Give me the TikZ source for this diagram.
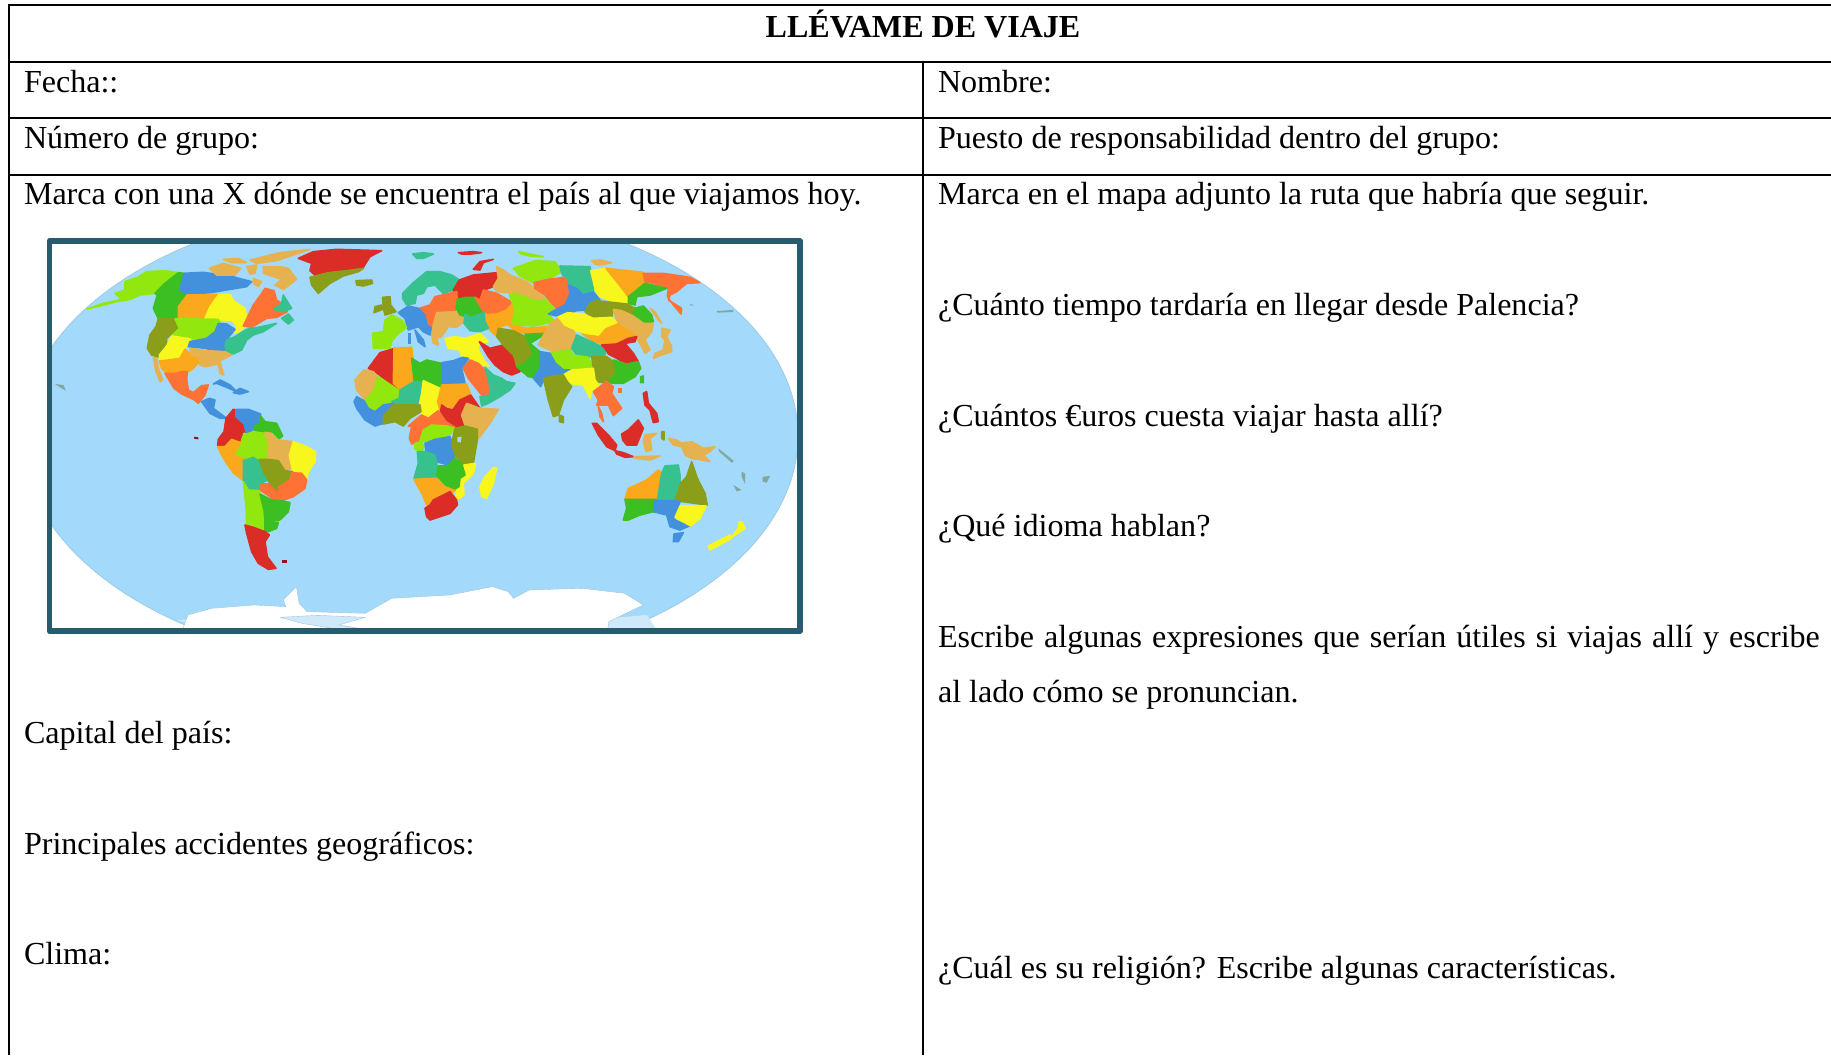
\documentclass[tikz,border=0pt]{standalone}
\usepackage{fontspec}
\setmainfont{Liberation Serif}
\definecolor{cRed}{HTML}{DB2C27}
\definecolor{cOrg}{HTML}{FF7236}
\definecolor{cAmb}{HTML}{FBA81C}
\definecolor{cTan}{HTML}{E6B24F}
\definecolor{cYel}{HTML}{F7F71E}
\definecolor{cLim}{HTML}{92E70E}
\definecolor{cGrn}{HTML}{3CBF23}
\definecolor{cTeal}{HTML}{37C18F}
\definecolor{cBlu}{HTML}{4390DC}
\definecolor{cOlv}{HTML}{8B9E1A}
\definecolor{ocean}{HTML}{A3DAFB}
\definecolor{shelf}{HTML}{CFE9FA}
\definecolor{frameC}{HTML}{265C6E}
\definecolor{isle}{HTML}{7FA8A0}
\newcommand\cty[2]{\draw[land=#1] plot coordinates {#2} -- cycle;}
\newcommand\isl[2]{\fill[#1] plot coordinates {#2} -- cycle;}
\tikzset{
  rule/.style={line width=1.1pt,black},
  cell/.style={anchor=base west,inner sep=0pt,outer sep=0pt,font=\fontsize{18.25}{22}\selectfont},
  land/.style={draw=#1,fill=#1,line width=0.9pt,line join=round},
  crop/.style 2 args={shift={(#1,#2)},x=0.0066667cm,y=-0.0066667cm},
  cropw/.style={shift={(0,220)},x=0.010588cm,y=-0.0066667cm}
}
\begin{document}
\begin{tikzpicture}[x=0.02cm,y=-0.02cm]
\useasboundingbox (0,0) rectangle (1831,1055);
\fill[white] (0,0) rectangle (1831,1055);
% table
\draw[rule] (1831,5) -- (9,5) -- (9,1055);
\draw[rule] (9,62) -- (1831,62);
\draw[rule] (9,118) -- (1831,118);
\draw[rule] (9,175) -- (1831,175);
\draw[rule] (923,62) -- (923,1055);
% texts
\node[cell,anchor=base,font=\fontsize{18.25}{22}\selectfont\bfseries] (title) at (923,37) {LLÉVAME DE VIAJE};
\node[cell] (fecha) at (24,92) {Fecha::};
\node[cell] (nombre) at (938,92) {Nombre:};
\node[cell] (grupo) at (24,148) {Número de grupo:};
\node[cell] (puesto) at (938,148) {Puesto de responsabilidad dentro del grupo:};
\node[cell] (marcaL) at (24,204) {Marca con una X dónde se encuentra el país al que viajamos hoy.};
\node[cell] (marcaR) at (938,204) {Marca en el mapa adjunto la ruta que habría que seguir.};
\node[cell] (tiempo) at (938,315) {¿Cuánto tiempo tardaría en llegar desde Palencia?};
\node[cell] (euros) at (938,426) {¿Cuántos €uros cuesta viajar hasta allí?};
\node[cell] (idioma) at (938,536) {¿Qué idioma hablan?};
\node[cell] (expr) at (938,647) {\makebox[17.64cm][s]{Escribe algunas expresiones que serían útiles si viajas allí y escribe}};
\node[cell] (lado) at (938,702) {al lado cómo se pronuncian.};
\node[cell] (rel) at (938,978) {¿Cuál es su religión? Escribe algunas características.};
\node[cell] (capital) at (24,743) {Capital del país:};
\node[cell] (accid) at (24,854) {Principales accidentes geográficos:};
\node[cell] (clima) at (24,964) {Clima:};
% map
\begin{scope}
\clip (50,241) rectangle (800,631);
\draw[fill=ocean,draw=ocean!80!gray,line width=0.4pt] (410,436) ellipse [x radius=388,y radius=232];
% Antarctica
\begin{scope}[cropw]
\draw[fill=shelf,draw=none] plot coordinates {(335,1200)(395,1228)(1240,1228)(1222,1185)(1150,1195)(1000,1215)(700,1190)(600,1180)(530,1190)(400,1195)} -- cycle;
\draw[fill=white,draw=ocean!70!gray,line width=0.2pt] plot coordinates {(345,1228)(355,1185)(400,1165)(480,1155)(540,1160)(535,1140)(560,1100)(565,1150)(580,1175)(690,1180)(740,1135)(850,1125)(930,1100)(960,1115)(970,1135)(1000,1110)(1100,1105)(1180,1120)(1215,1155)(1150,1205)(1148,1228)(690,1228)(640,1215)(690,1192)(600,1186)(530,1192)(570,1210)(640,1228)(395,1228)} -- cycle;
\end{scope}
% North America
\begin{scope}[crop={50}{240}]
\cty{cLim}{(110,207)(160,190)(215,178)(195,160)(225,150)(225,125)(262,112)(290,95)(345,92)(385,98)(345,130)(315,160)(270,165)(240,178)(200,185)(150,198)}
\cty{cGrn}{(385,98)(402,100)(390,150)(412,165)(385,200)(385,236)(325,236)(310,205)(322,165)(315,160)(345,130)}
\cty{cBlu}{(402,100)(460,97)(540,108)(605,125)(590,140)(530,150)(480,158)(412,163)(390,150)}
\cty{cAmb}{(412,165)(507,163)(480,200)(465,235)(385,236)(385,200)}
\cty{cYel}{(507,163)(542,165)(550,182)(585,205)(592,245)(575,270)(555,280)(560,258)(545,240)(510,240)(465,235)(480,200)}
\cty{cOrg}{(645,145)(672,152)(680,180)(695,190)(672,210)(712,215)(680,232)(650,235)(605,262)(580,258)(610,195)(632,165)}
\cty{cTeal}{(700,165)(725,205)(700,215)(672,208)(695,190)}
\cty{cTeal}{(695,235)(715,222)(730,240)(715,252)}
\cty{cOlv}{(325,236)(385,236)(385,262)(350,295)(350,325)(328,352)(305,345)(292,325)(300,285)(318,260)}
\cty{cLim}{(375,236)(505,238)(510,250)(495,278)(470,295)(425,297)(418,292)(385,290)(365,288)(388,265)}
\cty{cYel}{(365,288)(422,297)(405,325)(390,355)(345,362)(328,360)(328,345)(350,318)}
\cty{cBlu}{(420,305)(470,295)(495,275)(505,250)(530,252)(555,268)(545,280)(530,300)(525,335)(490,337)(470,325)(415,320)}
\cty{cTeal}{(530,300)(555,290)(590,268)(625,262)(680,250)(640,275)(610,285)(590,300)(575,330)(550,342)(530,335)(525,320)}
\cty{cAmb}{(340,362)(390,355)(405,328)(425,345)(450,352)(448,365)(430,385)(415,395)(385,400)(350,400)(335,385)(328,362)}
\cty{cTan}{(420,325)(470,332)(525,335)(545,345)(510,362)(515,385)(522,405)(510,400)(505,372)(465,380)(450,375)(450,350)(425,345)}
\cty{cTan}{(310,352)(320,355)(325,385)(338,420)(330,425)(318,395)}
\cty{cOrg}{(345,400)(378,400)(395,395)(412,395)(410,420)(415,450)(430,458)(455,437)(475,435)(465,465)(445,490)(430,478)(395,462)(372,445)}
\cty{cBlu}{(455,485)(478,475)(495,480)(490,505)(510,520)(530,535)(510,535)(480,520)}
\cty{cBlu}{(490,432)(510,420)(540,435)(560,455)(530,442)(500,430)}
\cty{cBlu}{(550,458)(570,445)(595,455)(570,462)}
\cty{cRed}{(745,55)(790,35)(860,28)(995,32)(960,50)(940,82)(890,90)(835,100)(800,110)(780,92)(785,70)}
\cty{cOlv}{(780,112)(835,98)(890,92)(940,85)(925,95)(880,108)(840,130)(805,160)(785,135)}
\cty{cTan}{(478,85)(520,70)(572,85)(555,105)(500,105)}
\cty{cTan}{(520,58)(565,55)(590,68)(545,68)}
\cty{cTan}{(590,80)(620,75)(615,100)(600,102)}
\cty{cTan}{(640,80)(690,80)(715,85)(740,118)(700,148)(675,135)(695,118)(640,100)}
\cty{cTan}{(600,60)(690,38)(780,28)(730,45)(680,62)(620,70)}
\cty{cTan}{(610,115)(635,125)(625,140)(610,130)}
\isl{isle}{(15,432)(40,435)(48,452)(35,445)}
\end{scope}
% South America
\begin{scope}[crop={150}{400}]
\cty{cRed}{(203,135)(205,118)(222,95)(228,55)(250,28)(258,30)(258,50)(282,70)(288,100)(272,115)(275,135)(245,118)(225,140)(210,145)}
\cty{cBlu}{(258,28)(295,28)(332,42)(330,70)(312,78)(305,100)(290,102)(282,72)(258,50)}
\cty{cGrn}{(332,48)(345,65)(380,70)(398,108)(375,125)(345,97)(320,120)(312,80)(330,70)}
\cty{cLim}{(282,100)(290,102)(310,95)(345,100)(358,130)(352,175)(325,178)(310,170)(280,180)(250,165)(272,130)}
\cty{cTan}{(345,97)(365,100)(385,120)(430,125)(418,165)(425,205)(405,210)(385,180)(352,178)(358,130)}
\cty{cYel}{(430,125)(470,140)(497,155)(495,185)(475,215)(470,240)(455,220)(428,212)(418,165)}
\cty{cAmb}{(203,140)(225,140)(245,118)(272,128)(250,165)(285,180)(278,240)(250,218)(230,190)(215,165)}
\cty{cTeal}{(280,182)(310,172)(330,185)(340,215)(355,240)(330,250)(328,272)(295,268)(280,240)}
\cty{cOlv}{(328,178)(352,178)(385,182)(405,212)(428,215)(420,240)(385,262)(385,282)(365,270)(355,240)(340,215)}
\cty{cOrg}{(425,218)(455,220)(470,240)(465,265)(430,290)(395,302)(375,308)(360,290)(330,270)(332,252)(355,252)(385,282)(385,262)(420,240)}
\cty{cLim}{(280,245)(295,270)(328,272)(335,300)(342,350)(345,392)(310,382)(290,372)(288,320)}
\cty{cGrn}{(330,282)(365,300)(395,302)(420,308)(415,335)(392,358)(385,362)(345,362)(342,330)}
\cty{cGrn}{(345,362)(385,368)(380,385)(355,395)(345,392)}
\cty{cRed}{(285,375)(310,382)(345,395)(358,405)(345,425)(352,470)(378,505)(355,508)(325,490)(305,455)(290,400)}
\isl{cRed!60!black}{(395,480)(410,480)(410,488)(395,488)}
\isl{cRed!60!black}{(132,110)(145,112)(145,118)(132,116)}
\end{scope}
% Europe and west Asia
\begin{scope}[crop={340}{240}]
\cty{cTeal}{(218,42)(250,38)(280,42)(250,55)(230,55)}
\cty{cRed}{(355,38)(400,35)(425,38)(395,42)(365,42)}
\cty{cRed}{(400,88)(420,65)(460,58)(430,68)(420,90)}
\cty{cTeal}{(188,160)(220,128)(260,95)(300,95)(335,105)(358,120)(340,150)(310,160)(285,135)(260,140)(250,160)(230,165)(225,190)(200,195)(188,175)}
\cty{cOlv}{(128,172)(150,170)(152,195)(168,215)(135,225)(130,205)}
\cty{cOlv}{(105,200)(125,195)(128,208)(102,218)}
\cty{cOlv}{(48,122)(95,120)(98,130)(70,138)(50,135)}
\cty{cRed}{(340,150)(358,120)(400,105)(470,98)(475,120)(460,140)(432,150)(420,180)(405,172)(380,170)(352,180)}
\cty{cOrg}{(238,205)(270,195)(285,170)(350,155)(352,180)(348,205)(345,215)(290,218)(280,260)(260,255)(255,225)}
\cty{cBlu}{(175,218)(205,198)(235,205)(255,225)(260,255)(285,270)(270,285)(250,275)(235,260)(205,270)(195,235)}
\cty{cBlu}{(225,270)(250,300)(255,320)(235,305)}
\cty{cBlu}{(205,280)(212,280)(212,310)(205,310)}
\cty{cLim}{(155,225)(185,240)(200,262)(170,285)(155,305)(150,325)(100,325)(98,280)(130,275)(135,240)}
\cty{cTan}{(290,218)(345,215)(378,240)(350,262)(325,260)(305,290)(290,295)(295,315)(280,310)(275,285)(280,255)}
\cty{cGrn}{(352,178)(380,172)(405,172)(432,218)(385,232)(360,225)(348,205)}
\cty{cOrg}{(405,172)(420,180)(430,150)(470,160)(518,188)(500,210)(470,222)(432,218)}
\cty{cTan}{(470,80)(490,90)(510,105)(560,125)(590,150)(620,180)(580,180)(520,160)(470,155)(460,140)(475,115)}
\cty{cAmb}{(420,225)(470,222)(500,210)(518,190)(525,230)(510,250)(470,265)(480,285)(465,285)(445,265)(435,250)}
\cty{cTeal}{(375,222)(390,232)(432,218)(435,245)(445,265)(420,275)(390,272)(372,250)}
\cty{cYel}{(315,295)(345,290)(375,295)(420,280)(445,305)(418,310)(415,330)(435,365)(447,378)(410,375)(385,350)(365,350)(360,330)(325,325)}
\cty{cRed}{(418,305)(450,325)(490,315)(520,345)(525,375)(540,395)(515,405)(490,395)(465,375)(445,350)}
\end{scope}
% Africa
\begin{scope}[crop={340}{340}]
\cty{cRed}{(85,85)(120,38)(165,25)(160,90)(158,130)(175,150)(155,135)(125,110)(105,95)}
\cty{cAmb}{(162,25)(215,22)(220,60)(222,120)(180,148)(160,130)}
\cty{cGrn}{(215,55)(240,70)(260,60)(305,70)(308,145)(285,135)(250,122)(222,120)}
\cty{cBlu}{(305,68)(340,62)(368,52)(385,55)(365,85)(375,130)(308,130)}
\cty{cOrg}{(370,85)(390,60)(415,70)(440,95)(450,165)(425,165)(405,140)(385,115)}
\cty{cTeal}{(435,82)(460,105)(485,115)(500,125)(525,130)(510,150)(480,170)(445,190)(425,198)(420,170)(450,165)(448,130)}
\cty{cTan}{(72,90)(100,95)(112,110)(100,155)(75,180)(50,150)(45,120)}
\cty{cLim}{(115,110)(175,150)(175,175)(155,185)(125,195)(105,215)(85,200)(75,180)(100,155)}
\cty{cTeal}{(180,150)(222,125)(250,125)(245,160)(240,195)(175,195)(155,185)(178,175)}
\cty{cYel}{(250,122)(300,145)(295,185)(295,205)(265,235)(245,225)(238,195)(245,160)}
\cty{cAmb}{(305,135)(380,132)(392,165)(350,190)(335,205)(315,195)(300,210)(293,185)}
\cty{cBlu}{(50,170)(72,182)(85,205)(105,215)(130,195)(160,190)(155,208)(130,230)(130,250)(105,258)(75,240)(50,205)(42,185)}
\cty{cOlv}{(160,195)(240,195)(243,215)(210,235)(190,258)(165,245)(130,252)(130,228)}
\cty{cRed}{(305,195)(320,205)(338,210)(360,180)(392,165)(420,205)(385,200)(365,225)(372,255)(345,262)(325,250)(300,225)}
\cty{cTan}{(380,190)(420,205)(475,208)(450,250)(420,290)(412,298)(410,265)(375,255)(365,225)}
\cty{cOrg}{(245,225)(265,235)(295,212)(318,245)(345,262)(315,255)(275,255)(250,270)(240,305)(215,312)(208,295)(215,260)(205,258)}
\cty{cLim}{(250,270)(275,255)(320,258)(345,265)(325,290)(285,295)(250,305)(240,302)}
\cty{cLim}{(225,310)(245,305)(252,320)(245,335)(225,328)}
\cty{cBlu}{(255,310)(285,298)(330,290)(340,320)(345,350)(325,375)(290,365)(285,345)(258,335)}
\cty{cOlv}{(345,265)(375,258)(412,268)(412,300)(400,370)(370,372)(345,345)(335,310)}
\fill[ocean] plot coordinates {(352,292)(365,290)(362,308)(352,305)} -- cycle;
\cty{cYel}{(372,375)(407,370)(400,400)(370,430)(372,465)(350,480)(348,445)(360,415)(342,400)(365,395)}
\cty{cTeal}{(232,335)(258,335)(285,345)(290,370)(295,415)(222,415)(235,370)}
\cty{cGrn}{(295,378)(325,378)(345,355)(365,370)(375,405)(360,415)(357,440)(340,450)(315,435)(290,405)}
\cty{cAmb}{(222,418)(290,415)(315,440)(345,452)(325,465)(275,480)(262,498)(245,460)}
\cty{cRed}{(255,505)(270,495)(280,480)(330,455)(350,480)(352,495)(330,520)(270,540)(260,530)}
\cty{cYel}{(460,382)(470,385)(460,430)(440,475)(425,470)(420,440)(435,410)}
\end{scope}
% Asia
\begin{scope}[crop={480}{240}]
\cty{cLim}{(115,35)(150,42)(190,50)(150,48)(125,42)}
\cty{cTan}{(335,62)(360,60)(395,68)(360,75)(345,72)}
\cty{cLim}{(100,85)(165,62)(225,65)(245,95)(205,118)(160,128)(120,108)}
\cty{cTeal}{(240,78)(330,80)(340,150)(310,165)(280,140)(265,130)(245,100)}
\cty{cOrg}{(162,128)(205,118)(255,112)(272,160)(240,215)(215,190)(195,165)(165,145)}
\cty{cLim}{(88,165)(105,160)(160,180)(198,180)(222,205)(205,222)(225,245)(160,258)(95,255)(105,210)(98,190)}
\cty{cAmb}{(80,252)(140,265)(200,260)(190,280)(135,280)(110,275)}
\cty{cOlv}{(55,265)(100,272)(135,290)(160,340)(135,370)(110,375)(100,345)(70,315)(50,290)}
\cty{cGrn}{(135,283)(200,280)(150,310)(185,340)(185,380)(165,412)(145,410)(110,380)(135,370)(160,340)}
\cty{cYel}{(332,92)(378,85)(410,125)(445,175)(440,190)(400,185)(350,165)}
\cty{cAmb}{(378,85)(490,97)(495,125)(470,150)(445,170)(410,125)}
\cty{cOrg}{(490,100)(550,100)(630,112)(660,128)(620,130)(590,155)(570,165)(565,180)(605,205)(603,222)(580,195)(562,170)(565,145)(520,130)(495,125)}
\cty{cGrn}{(495,130)(560,145)(510,165)(470,170)(465,195)(445,190)(445,170)}
\cty{cBlu}{(265,135)(290,145)(310,165)(340,155)(360,180)(330,190)(325,210)(290,212)(260,225)(240,230)(205,222)(225,210)(255,195)(270,160)}
\cty{cOlv}{(330,190)(350,182)(440,192)(465,205)(465,235)(420,210)(400,210)(395,230)(340,235)(315,215)}
\cty{cGrn}{(465,205)(490,198)(515,225)(520,245)(490,250)(460,225)}
\cty{cTan}{(400,208)(425,212)(460,228)(490,250)(520,250)(515,275)(495,300)(510,330)(495,340)(480,310)(465,285)(430,260)(412,248)}
\cty{cAmb}{(410,250)(430,262)(470,290)(440,295)(410,310)(365,312)(335,300)(308,282)(355,288)(375,262)}
\cty{cYel}{(232,232)(262,218)(310,222)(340,235)(395,232)(410,248)(375,262)(355,285)(320,280)(280,270)(250,258)}
\cty{cTan}{(232,235)(252,260)(280,272)(295,300)(270,330)(220,335)(175,315)(205,258)}
\cty{cTeal}{(290,285)(335,305)(375,325)(375,345)(340,345)(325,352)(290,345)(275,325)}
\cty{cRed}{(410,312)(445,295)(470,290)(465,305)(435,310)(460,340)(475,365)(440,372)(410,355)(385,342)(375,325)(365,315)}
\cty{cLim}{(212,338)(270,330)(280,345)(325,352)(342,385)(290,385)(250,390)(225,365)}
\cty{cBlu}{(180,335)(210,340)(225,368)(250,390)(275,390)(250,405)(222,405)(195,410)(182,440)(160,415)(180,385)}
\cty{cOlv}{(335,350)(380,350)(400,365)(410,395)(385,430)(350,425)(342,395)}
\cty{cGrn}{(400,360)(440,372)(475,365)(482,385)(465,410)(430,430)(405,430)(385,428)(410,395)}
\cty{cYel}{(250,405)(275,390)(340,385)(345,420)(360,440)(335,455)(330,475)(310,435)(280,432)(262,425)}
\cty{cOlv}{(190,415)(222,407)(250,405)(262,425)(275,440)(250,480)(235,525)(220,530)(205,480)}
\cty{cOlv}{(238,525)(250,530)(250,548)(238,545)}
\cty{cOrg}{(340,455)(380,425)(400,440)(395,460)(425,505)(400,527)(385,495)(350,495)(355,480)}
\cty{cOrg}{(355,500)(365,520)(370,545)(360,530)}
\cty{cRed}{(490,460)(500,455)(505,490)(530,520)(535,545)(520,548)(510,510)(495,495)}
\cty{cTan}{(545,265)(570,270)(560,290)(575,320)(575,335)(545,345)(520,355)(525,340)(550,330)(555,300)(545,290)}
\cty{cTan}{(510,205)(525,215)(545,250)(535,240)}
\cty{cGrn}{(482,410)(490,408)(490,428)(482,428)}
\cty{cOrg}{(415,445)(425,445)(425,457)(415,457)}
\isl{isle}{(710,213)(760,210)(760,216)(712,218)}
\isl{isle}{(630,193)(640,194)(640,197)(630,196)}
\end{scope}
% Indonesia and Oceania
\begin{scope}[crop={560}{380}]
\cty{cRed}{(97,130)(110,130)(145,165)(170,195)(165,212)(140,200)(115,165)}
\cty{cRed}{(165,212)(190,218)(220,230)(195,232)(170,222)}
\cty{cTan}{(222,230)(300,228)(270,240)(225,235)}
\cty{cRed}{(185,162)(205,150)(235,120)(250,145)(240,170)(230,195)(200,195)(188,180)}
\cty{cTan}{(255,165)(290,160)(270,175)(275,210)(258,215)(250,185)}
\cty{cTan}{(325,175)(350,180)(365,190)(395,185)(430,205)(465,200)(450,215)(430,225)(450,245)(425,240)(395,235)(375,225)(365,200)(340,195)}
\cty{cOlv}{(305,155)(312,155)(312,180)(305,175)}
\cty{cAmb}{(195,357)(205,325)(260,300)(295,270)(305,278)(292,358)}
\cty{cGrn}{(195,358)(292,358)(280,395)(240,405)(205,420)(190,420)(200,385)}
\cty{cTeal}{(315,258)(355,255)(360,285)(360,310)(345,362)(292,362)(305,280)}
\cty{cOlv}{(395,245)(412,295)(435,340)(442,375)(345,362)(362,310)(380,290)}
\cty{cBlu}{(285,362)(345,362)(360,365)(345,410)(345,420)(388,438)(360,450)(330,440)(320,405)(280,395)}
\cty{cYel}{(360,378)(438,378)(420,415)(392,438)(345,412)}
\cty{cBlu}{(342,462)(370,458)(355,485)(340,485)}
\cty{cYel}{(445,498)(510,465)(515,475)(450,510)}
\cty{cYel}{(515,470)(535,445)(538,425)(545,425)(555,445)(525,465)}
\isl{isle}{(475,205)(522,243)(515,248)(478,215)}
\isl{isle}{(545,275)(555,280)(555,312)(545,290)}
\isl{isle}{(520,315)(545,330)(530,334)}
\isl{isle}{(608,290)(630,288)(620,308)(608,305)}
\end{scope}
\end{scope}
\draw[frameC,line width=3.3pt,line join=round] (49.5,241) rectangle (800,631);
\end{tikzpicture}
\end{document}
